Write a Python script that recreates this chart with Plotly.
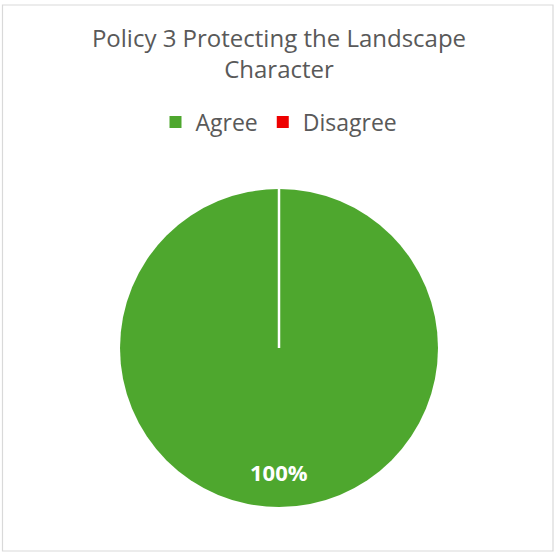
import plotly.graph_objects as go

categories = ["Agree", "Disagree"]
values = [100, 0]
colors = ["#4EA72E", "#EE0000"]
title_text = "Policy 3 Protecting the Landscape<br>Character"

W, H = 558, 555
cx, cy, r = 279, 348, 159
FONT = "Open Sans, Lato, sans-serif"

total = sum(values)
pct_label = f"{round(values[0] / total * 100)}%"

fig = go.Figure()
fig.add_trace(go.Pie(
    labels=categories,
    values=values,
    marker=dict(colors=colors, line=dict(color="white", width=0)),
    sort=False,
    direction="clockwise",
    rotation=0,
    textinfo="none",
    hoverinfo="label+percent",
    showlegend=True,
    domain=dict(x=[(cx - r) / W, (cx + r) / W], y=[1 - (cy + r) / H, 1 - (cy - r) / H]),
))

# white separator line at the zero-size slice boundary
fig.add_shape(type="line", xref="paper", yref="paper",
              x0=cx / W, x1=cx / W, y0=1 - cy / H, y1=1 - (cy - r) / H,
              line=dict(color="white", width=2.5), layer="above")

# chart border
fig.add_shape(type="rect", xref="paper", yref="paper",
              x0=2.5 / W, x1=553 / W, y0=1 - 551 / H, y1=1 - 5 / H,
              line=dict(color="#D9D9D9", width=1.2))

fig.add_annotation(text=f"<b>{pct_label}</b>", xref="paper", yref="paper",
                   x=cx / W, y=1 - 472 / H, xanchor="center", yanchor="middle",
                   showarrow=False,
                   font=dict(family=FONT, size=22, color="white"))

fig.update_layout(
    width=W, height=H,
    margin=dict(l=0, r=0, t=0, b=0),
    paper_bgcolor="white",
    plot_bgcolor="white",
    title=dict(text=title_text, x=0.5, xanchor="center", y=1 - 47 / H, yanchor="middle",
               font=dict(family=FONT, size=24, color="#595959")),
    legend=dict(orientation="h", x=0.5, xanchor="center", y=1 - 122 / H, yanchor="middle",
                font=dict(family=FONT, size=23, color="#595959"),
                itemwidth=30, traceorder="normal"),
)

fig.write_html("out.html", config={"displayModeBar": False},
               post_script="document.body.style.margin='0';document.body.style.overflow='hidden';")
